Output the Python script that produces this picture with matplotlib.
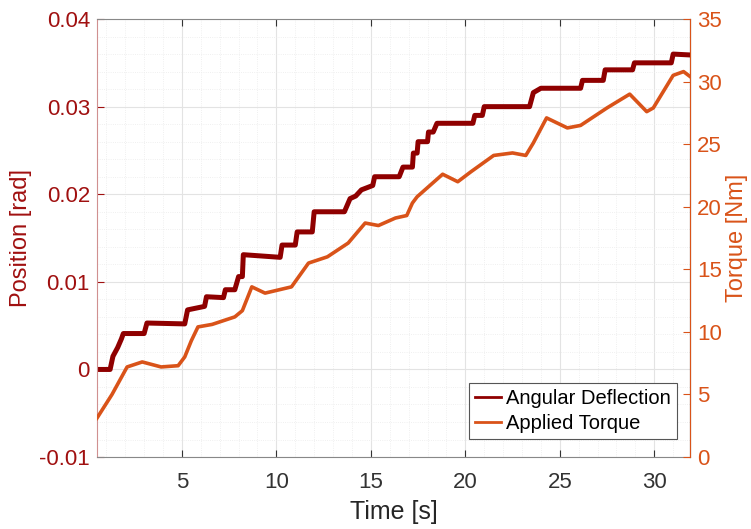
import matplotlib
matplotlib.use("Agg")
import matplotlib.pyplot as plt
from matplotlib.ticker import MultipleLocator

plt.rcParams['font.family'] = ['Liberation Sans', 'DejaVu Sans']

# Angular deflection [rad] (step-like)
t_def = [0.5, 1.2, 1.35, 1.6, 1.8, 1.9, 3.0, 3.15, 5.15, 5.3, 6.2, 6.3, 7.2, 7.3, 7.8,
         8.0, 8.2, 8.25, 10.2, 10.3, 11.0, 11.1, 11.9, 12.0, 13.6, 13.9, 14.2, 14.5,
         15.1, 15.2, 16.5, 16.7, 17.2, 17.25, 17.45, 17.5, 18.0, 18.05, 18.3, 18.5,
         20.4, 20.5, 20.9, 21.0, 23.4, 23.6, 24.0, 26.1, 26.2, 27.3, 27.4, 28.85,
         28.95, 30.9, 31.0, 31.9]
v_def = [0.0, 0.0, 0.0015, 0.0025, 0.0035, 0.0041, 0.0041, 0.0053, 0.0052, 0.0068,
         0.0072, 0.0083, 0.0082, 0.0091, 0.0091, 0.0106, 0.0106, 0.0131, 0.0128,
         0.0142, 0.0142, 0.0157, 0.0157, 0.018, 0.018, 0.0195, 0.0198, 0.0205,
         0.0210, 0.0220, 0.0220, 0.0231, 0.0231, 0.0247, 0.0247, 0.0260, 0.0260,
         0.0271, 0.0271, 0.0281, 0.0281, 0.0290, 0.0290, 0.0300, 0.0300, 0.0316,
         0.0321, 0.0321, 0.0330, 0.0330, 0.0342, 0.0342, 0.0350, 0.0350, 0.0360,
         0.0359]

# Applied torque [Nm]
t_tq = [0.5, 1.3, 2.1, 2.9, 3.9, 4.8, 5.15, 5.5, 5.85, 6.6, 7.8, 8.2, 8.7, 9.4, 10.8,
        11.7, 12.7, 13.8, 14.7, 15.4, 16.3, 16.9, 17.2, 17.45, 18.8, 19.6, 20.3, 21.5,
        22.5, 23.2, 23.6, 24.3, 25.4, 26.1, 27.5, 28.7, 29.6, 29.95, 31.0, 31.55, 31.9]
v_tq = [3.1, 5.0, 7.2, 7.6, 7.2, 7.3, 8.0, 9.3, 10.4, 10.6, 11.2, 11.7, 13.6, 13.1,
        13.6, 15.5, 16.0, 17.1, 18.7, 18.5, 19.1, 19.3, 20.3, 20.8, 22.6, 22.0, 22.8,
        24.1, 24.3, 24.1, 25.1, 27.1, 26.3, 26.5, 27.9, 29.0, 27.6, 27.9, 30.5, 30.8,
        30.4]

x_ticks = [5, 10, 15, 20, 25, 30]
y_left_ticks = [-0.01, 0, 0.01, 0.02, 0.03, 0.04]
y_left_labels = ['-0.01', '0', '0.01', '0.02', '0.03', '0.04']
y_right_ticks = [0, 5, 10, 15, 20, 25, 30, 35]

c_def = '#8f0000'
c_tq = '#d95319'
c_left = '#a01010'

fig = plt.figure(figsize=(7.51, 5.29), dpi=100)
ax = fig.add_axes([0.129, 0.136, 0.790, 0.828])
ax2 = ax.twinx()

l1, = ax.plot(t_def, v_def, color=c_def, lw=3.6, label='Angular Deflection')
l2, = ax2.plot(t_tq, v_tq, color=c_tq, lw=2.6, label='Applied Torque')

ax.set_xlim(0.5, 31.9)
ax.set_ylim(-0.01, 0.04)
ax2.set_ylim(0, 35)

ax.set_xticks(x_ticks)
ax.xaxis.set_minor_locator(MultipleLocator(1))
ax.yaxis.set_minor_locator(MultipleLocator(0.002))
ax.set_yticks(y_left_ticks)
ax.set_yticklabels(y_left_labels)
ax2.set_yticks(y_right_ticks)

ax.grid(which='major', color='#e3e3e3', lw=0.8)
ax.grid(which='minor', color='#ebebeb', lw=0.6, ls=':')
ax.set_axisbelow(True)

ax.tick_params(axis='x', which='major', direction='in', top=True, length=5,
               labelsize=16, colors='#333333', pad=11)
ax.tick_params(axis='x', which='minor', length=0)
ax.tick_params(axis='y', which='major', direction='in', length=5, labelsize=16,
               colors=c_left, pad=5)
ax.tick_params(axis='y', which='minor', length=0)
ax2.tick_params(axis='y', which='major', direction='in', length=5, labelsize=16,
                colors=c_tq, pad=5)

for s in ['top', 'bottom']:
    ax.spines[s].set_color('#888888')
ax.spines['left'].set_color('#d09090')
ax2.spines['right'].set_color(c_tq)
ax2.spines['left'].set_visible(False)
ax2.spines['top'].set_visible(False)
ax2.spines['bottom'].set_visible(False)

ax.set_xlabel('Time [s]', fontsize=18, color='#262626', labelpad=5)
ax.set_ylabel('Position [rad]', fontsize=17, color=c_left, labelpad=5)
ax2.set_ylabel('Torque [Nm]', fontsize=17, color=c_tq, labelpad=3)

leg = ax2.legend([l1, l2], ['Angular Deflection', 'Applied Torque'],
                 loc='lower right', bbox_to_anchor=(0.978, 0.041), fontsize=14.5,
                 frameon=True, fancybox=False, framealpha=1, edgecolor='#555555',
                 handlelength=1.3, handletextpad=0.25, borderpad=0.3,
                 labelspacing=0.3, borderaxespad=0)
leg.get_frame().set_linewidth(0.8)
for h in leg.get_lines():
    h.set_linewidth(2)

fig.savefig('out.png', dpi=100)
